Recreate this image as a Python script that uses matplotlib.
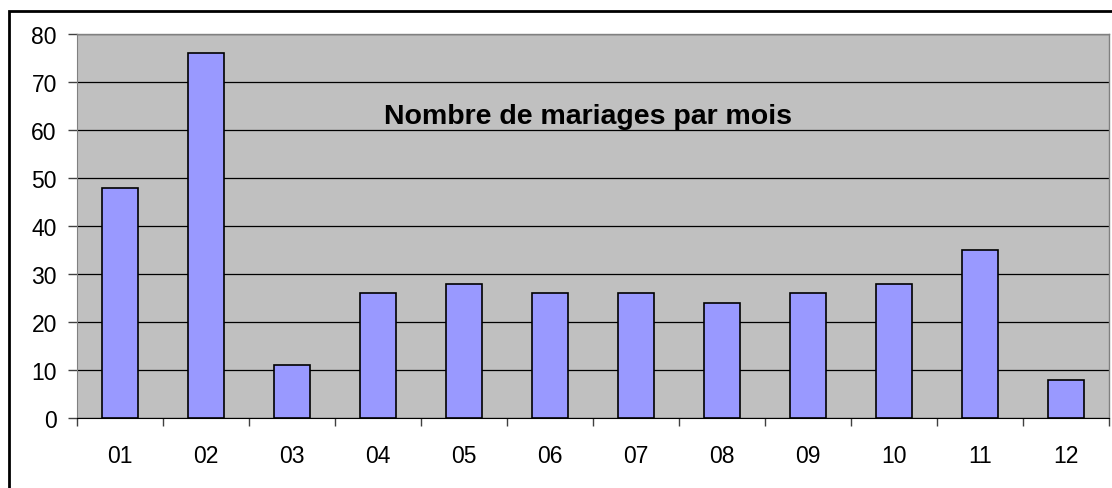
import matplotlib
matplotlib.use("Agg")
import matplotlib.pyplot as plt
from matplotlib.patches import Rectangle

plt.rcParams['font.family'] = ['Liberation Sans', 'DejaVu Sans']

# data
months = ["01", "02", "03", "04", "05", "06", "07", "08", "09", "10", "11", "12"]
mariages = [48, 76, 11, 26, 28, 26, 26, 24, 26, 28, 35, 8]
yticks = [0, 10, 20, 30, 40, 50, 60, 70, 80]

fig = plt.figure(figsize=(11.12, 4.89), dpi=100)
ax = fig.add_axes([77 / 1112, 1 - 419 / 489, 1032 / 1112, 384 / 489])

ax.set_facecolor("#C0C0C0")
x = range(len(months))
ax.bar(x, mariages, width=0.41, color="#9999FF", edgecolor="black", linewidth=1.2, zorder=3)

ax.set_xlim(-0.5, len(months) - 0.5)
ax.set_ylim(0, 80)
ax.set_yticks(yticks)
ax.yaxis.grid(True, color="black", linewidth=0.9, zorder=1)
ax.set_axisbelow(True)

# x ticks between categories, labels at centres
ax.set_xticks([i - 0.5 for i in range(len(months) + 1)])
ax.set_xticklabels([])
ax.set_xticks(list(x), minor=True)
ax.set_xticklabels(months, minor=True)
ax.tick_params(axis="x", which="major", length=6, width=1, color="#404040", direction="out")
ax.tick_params(axis="x", which="minor", length=0, pad=19, labelsize=16.5)
ax.tick_params(axis="y", length=6.5, width=1, color="#404040", labelsize=16.5, pad=8)

for side in ["top", "right"]:
    ax.spines[side].set_color("#808080")
    ax.spines[side].set_linewidth(1)
ax.spines["left"].set_color("#808080")
ax.spines["bottom"].set_color("black")

ax.text(0.495, 63, "Nombre de mariages par mois", transform=ax.get_yaxis_transform(),
        ha="center", va="center", fontsize=20.5, fontweight="bold", zorder=5)

# outer chart border
fig.patches.append(Rectangle((9 / 1112, -0.1), 1.2, 1 - 12 / 489 + 0.1,
                             transform=fig.transFigure, fill=False,
                             edgecolor="black", linewidth=2))

fig.savefig("out.png", dpi=100)
